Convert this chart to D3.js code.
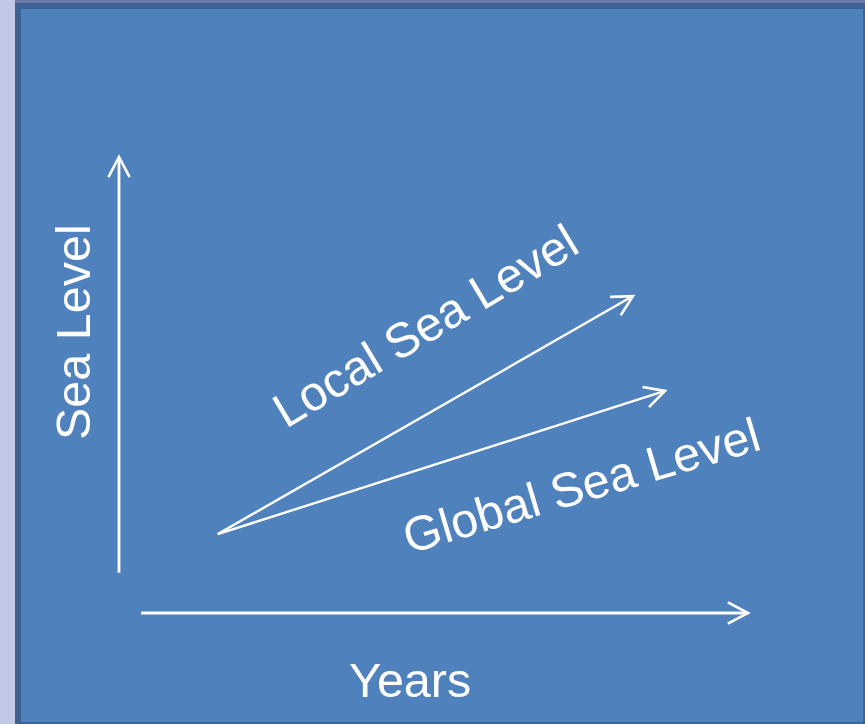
<!DOCTYPE html>
<html>
<head>
<meta charset="utf-8">
<script src="https://cdn.jsdelivr.net/npm/d3@7"></script>
<style>
  html, body { margin: 0; padding: 0; background: #c0c9e5; }
  svg { display: block; }
</style>
</head>
<body>
<script>
// Schematic: local vs global sea level rise over the years (abstract 0–100 units)
const axisLabels = ["Years", "Sea Level"];
const seriesNames = ["Local Sea Level", "Global Sea Level"];
const seriesStart = [[15.7, 17.3], [15.7, 17.3]];
const seriesEnd = [[81.7, 69.5], [86.8, 48.7]];
const axisXRange = [3.5, 100];
const axisYRange = [8.8, 100];

const W = 865, H = 724;
const svg = d3.select("body").append("svg").attr("width", W).attr("height", H);

// slide panel
svg.append("rect").attr("x", 0).attr("y", 0).attr("width", W).attr("height", H).attr("fill", "#c0c9e5");
svg.append("rect").attr("x", 15).attr("y", 0).attr("width", W - 15).attr("height", 3).attr("fill", "#6c7aa8");
svg.append("rect").attr("x", 15).attr("y", 3).attr("width", W - 15).attr("height", H - 3).attr("fill", "#3c6394");
svg.append("rect").attr("x", 21).attr("y", 9).attr("width", W - 23).attr("height", H - 11).attr("fill", "#4f81bd");

const x = d3.scaleLinear().domain([0, 100]).range([119, 748]);
const y = d3.scaleLinear().domain([0, 100]).range([613, 157]);

const defs = svg.append("defs");
defs.append("marker")
  .attr("id", "chev")
  .attr("markerUnits", "userSpaceOnUse")
  .attr("viewBox", "-22 -12 26 24")
  .attr("markerWidth", 26).attr("markerHeight", 24)
  .attr("refX", 0).attr("refY", 0)
  .attr("orient", "auto")
  .append("path")
  .attr("d", "M-19,-10L0,0L-19,10")
  .attr("fill", "none")
  .attr("stroke", "#fff")
  .attr("stroke-width", 2.6)
  .attr("stroke-linecap", "square");

const g = svg.append("g");

// axes as arrows
g.append("line")
  .attr("x1", x(0)).attr("y1", y(axisYRange[0]))
  .attr("x2", x(0)).attr("y2", y(axisYRange[1]))
  .attr("stroke", "#fff").attr("stroke-width", 2.8)
  .attr("marker-end", "url(#chev)");
g.append("line")
  .attr("x1", x(axisXRange[0])).attr("y1", y(0))
  .attr("x2", x(axisXRange[1])).attr("y2", y(0))
  .attr("stroke", "#fff").attr("stroke-width", 2.8)
  .attr("marker-end", "url(#chev)");

// series trend arrows
g.selectAll("line.series")
  .data(seriesNames.map((n, i) => ({ name: n, s: seriesStart[i], e: seriesEnd[i] })))
  .join("line")
  .attr("class", "series")
  .attr("x1", d => x(d.s[0])).attr("y1", d => y(d.s[1]))
  .attr("x2", d => x(d.e[0])).attr("y2", d => y(d.e[1]))
  .attr("stroke", "#fff").attr("stroke-width", 2.4)
  .attr("marker-end", "url(#chev)");

const font = "'Liberation Sans', Arial, sans-serif";
const fs = 48.5;

// axis titles
g.append("text")
  .attr("x", 349).attr("y", 697)
  .attr("fill", "#fff").attr("font-family", font).attr("font-size", fs)
  .text(axisLabels[0]);
g.append("text")
  .attr("transform", "translate(90,440) rotate(-90)")
  .attr("fill", "#fff").attr("font-family", font).attr("font-size", fs)
  .text(axisLabels[1]);

// series labels along the arrows
g.append("text")
  .attr("transform", "translate(286,429) rotate(-31)")
  .attr("fill", "#fff").attr("font-family", font).attr("font-size", fs)
  .text(seriesNames[0]);
g.append("text")
  .attr("transform", "translate(409,554) rotate(-16.5)")
  .attr("fill", "#fff").attr("font-family", font).attr("font-size", fs)
  .text(seriesNames[1]);
</script>
</body>
</html>
